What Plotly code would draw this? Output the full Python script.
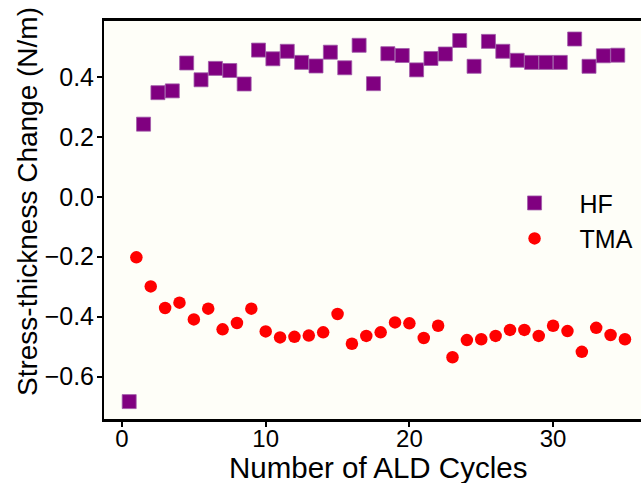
import plotly.graph_objects as go

# Stress-thickness change per ALD half-cycle
hf_cycles = [0.5 + i for i in range(35)]
hf_stress = [-0.683, 0.242, 0.347, 0.353, 0.446, 0.390, 0.428, 0.421, 0.376, 0.489,
             0.460, 0.485, 0.448, 0.436, 0.482, 0.430, 0.505, 0.377, 0.477, 0.471,
             0.423, 0.461, 0.476, 0.521, 0.435, 0.518, 0.485, 0.455, 0.448, 0.448,
             0.448, 0.526, 0.435, 0.470, 0.472]

tma_cycles = [1 + i for i in range(35)]
tma_stress = [-0.202, -0.299, -0.371, -0.353, -0.409, -0.373, -0.442, -0.421, -0.373, -0.449,
              -0.469, -0.467, -0.463, -0.452, -0.391, -0.490, -0.464, -0.452, -0.419, -0.422,
              -0.471, -0.430, -0.535, -0.478, -0.475, -0.464, -0.444, -0.444, -0.464, -0.430,
              -0.448, -0.517, -0.437, -0.461, -0.475]

x_ticks = [0, 10, 20, 30]
y_ticks = [-0.6, -0.4, -0.2, 0.0, 0.2, 0.4]

FONT = "Liberation Sans, Arial, Helvetica, sans-serif"

fig = go.Figure()
fig.add_trace(go.Scatter(
    x=hf_cycles, y=hf_stress, mode="markers", name="HF",
    marker=dict(symbol="square", size=14, color="#800080",
                line=dict(width=0.8, color="#a05aa8")),
))
fig.add_trace(go.Scatter(
    x=tma_cycles, y=tma_stress, mode="markers", name="TMA",
    marker=dict(symbol="circle", size=12.5, color="#ff0000",
                line=dict(width=0)),
))

fig.update_layout(
    width=641, height=483,
    margin=dict(l=104, r=0, t=21, b=64),
    paper_bgcolor="white",
    plot_bgcolor="#fefef8",
    font=dict(family=FONT, size=25, color="black"),
    showlegend=True,
    legend=dict(
        x=0.718, y=0.6, xanchor="left", yanchor="top",
        bgcolor="rgba(0,0,0,0)", borderwidth=0,
        font=dict(size=25), itemwidth=80, tracegroupgap=0,
    ),
    xaxis=dict(
        range=[-1.253, 36.117], tickvals=x_ticks,
        showline=True, linecolor="black", linewidth=2.5, mirror=True,
        ticks="outside", ticklen=5, tickwidth=1.5, tickcolor="black",
        showgrid=False, zeroline=False,
        tickfont=dict(size=24), ticklabelstandoff=-9,
    ),
    yaxis=dict(
        range=[-0.741, 0.586], tickvals=y_ticks, tickformat=".1f",
        showline=True, linecolor="black", linewidth=2, mirror=False,
        ticks="outside", ticklen=5, tickwidth=1.5, tickcolor="black",
        showgrid=False, zeroline=False,
        tickfont=dict(size=25), ticklabelstandoff=-2,
    ),
    annotations=[
        dict(text="Number of ALD Cycles", xref="paper", yref="paper",
             x=(378 - 104) / 537, y=-(467 - 419) / 398,
             xanchor="center", yanchor="middle", showarrow=False,
             font=dict(size=29.5)),
        dict(text="Stress-thickness Change (N/m)", xref="paper", yref="paper",
             x=-(104 - 27) / 537, y=(419 - 202) / 398, textangle=-90,
             xanchor="center", yanchor="middle", showarrow=False,
             font=dict(size=28)),
    ],
)

fig.write_html("out.html")
